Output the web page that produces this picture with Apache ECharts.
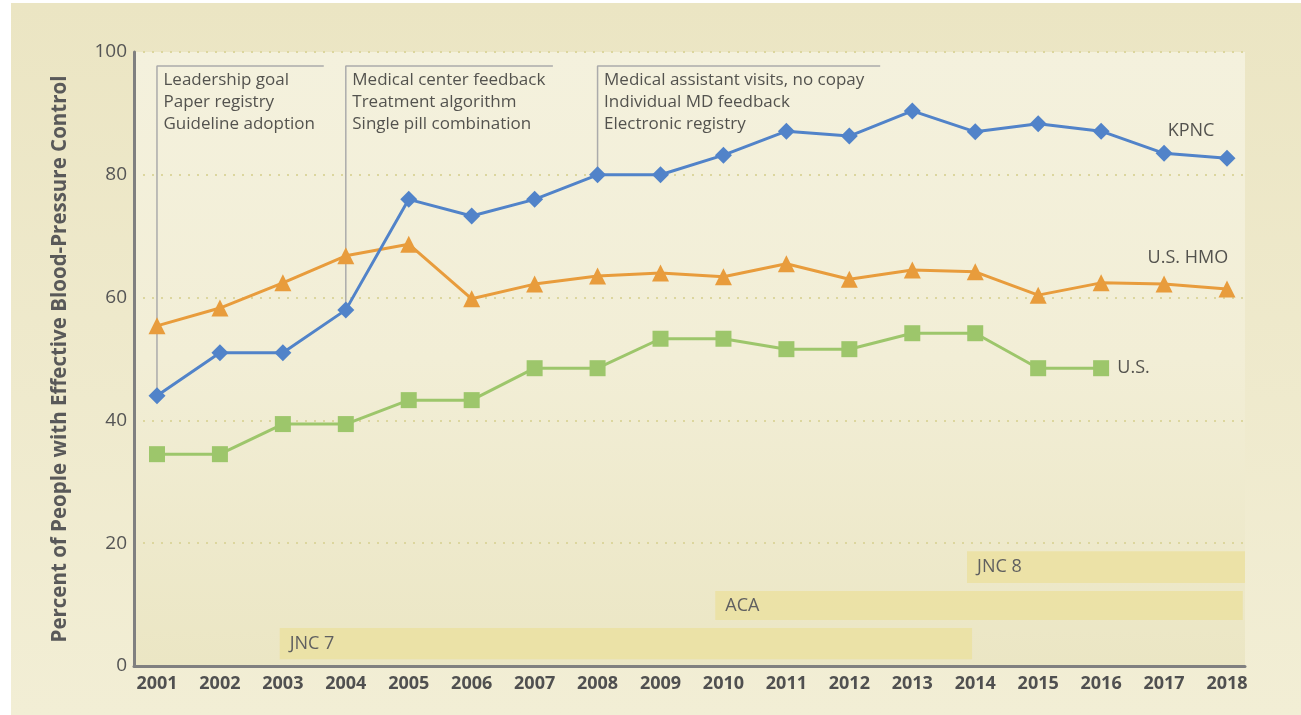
<!DOCTYPE html>
<html lang="en">
<head>
    <meta charset="UTF-8">
    <title>Effective Blood-Pressure Control</title>
    <script src="https://cdn.jsdelivr.net/npm/echarts@6.0.0/dist/echarts.min.js"></script>
    <style>
        html, body {
            margin: 0;
            padding: 0;
            background: #ffffff;
        }
        #chart {
            width: 1301px;
            height: 715px;
        }
    </style>
</head>
<body>

<div id="chart"></div>

<script>
const years = [2001, 2002, 2003, 2004, 2005, 2006, 2007, 2008, 2009, 2010, 2011, 2012, 2013, 2014, 2015, 2016, 2017, 2018];
const kpnc = [44, 51, 51, 58, 76, 73.3, 76, 80, 80, 83.2, 87.1, 86.3, 90.4, 87, 88.3, 87.1, 83.5, 82.7];
const usHmo = [55.4, 58.3, 62.4, 66.8, 68.7, 59.8, 62.2, 63.5, 64, 63.4, 65.5, 63, 64.5, 64.2, 60.4, 62.4, 62.2, 61.4];
const us = [34.5, 34.5, 39.4, 39.4, 43.3, 43.3, 48.5, 48.5, 53.3, 53.3, 51.6, 51.6, 54.2, 54.2, 48.5, 48.5, null, null];
const yTicks = [0, 20, 40, 60, 80, 100];

// guideline / policy bands
const bandNames = ['JNC 7', 'ACA', 'JNC 8'];
const bandFrom = [2002.95, 2009.87, 2013.87];
const bandTo = [2013.95, 2018.25, 2018.29];
const bandLow = [1.1, 7.5, 13.5];
const bandHigh = [6.2, 12.2, 18.7];

// intervention phases
const phaseStart = [2001, 2004, 2008];
const phaseEnd = [2003.65, 2007.29, 2012.49];
const phaseTop = 97.7;
const phaseText = [
    ['Leadership goal', 'Paper registry', 'Guideline adoption'],
    ['Medical center feedback', 'Treatment algorithm', 'Single pill combination'],
    ['Medical assistant visits, no copay', 'Individual MD feedback', 'Electronic registry']
];

// series name labels
const nameLabels = ['KPNC', 'U.S. HMO', 'U.S.'];
const nameLabelPos = [[2017.05, 87.1], [2016.73, 66.4], [2016.25, 48.5]];

const FONT = '"Open Sans", "Noto Sans", sans-serif';

function kpncAt(year) {
    return kpnc[years.indexOf(year)];
}

const phaseSeries = phaseStart.map((start, i) => ({
    type: 'line',
    silent: true,
    symbol: 'none',
    z: 1,
    lineStyle: { color: '#ababab', width: 1.5 },
    data: [[start, kpncAt(start)], [start, phaseTop], [phaseEnd[i], phaseTop]]
}));

const chart = echarts.init(document.getElementById('chart'));
chart.setOption({
    animation: false,
    backgroundColor: '#ffffff',
    graphic: [{
        type: 'rect',
        z: -10,
        shape: { x: 11, y: 3, width: 1290, height: 712 },
        style: {
            fill: new echarts.graphic.LinearGradient(0, 0, 0, 1, [
                { offset: 0, color: '#ebe5c3' },
                { offset: 1, color: '#f2eed5' }
            ])
        }
    }],
    grid: {
        left: 134,
        right: 56,
        top: 52,
        bottom: 49,
        show: true,
        borderWidth: 0,
        backgroundColor: new echarts.graphic.LinearGradient(0, 0, 0, 1, [
            { offset: 0, color: '#f4f1dd' },
            { offset: 0.5, color: '#f2eed6' },
            { offset: 1, color: '#ebe6c4' }
        ])
    },
    xAxis: {
        type: 'value',
        min: 2000.635,
        max: 2018.286,
        axisLine: { lineStyle: { color: '#808080', width: 3 } },
        axisTick: { show: false },
        splitLine: { show: false },
        axisLabel: {
            customValues: years,
            formatter: v => String(v),
            color: '#505050',
            fontFamily: FONT,
            fontWeight: 'bold',
            fontSize: 18,
            margin: 9
        }
    },
    yAxis: {
        type: 'value',
        min: 0,
        max: 100,
        interval: 20,
        name: 'Percent of People with Effective Blood-Pressure Control',
        nameLocation: 'middle',
        nameGap: 63,
        nameTextStyle: {
            color: '#595959',
            fontFamily: FONT,
            fontWeight: 'bold',
            fontSize: 20.5
        },
        axisLine: { show: true, lineStyle: { color: '#808080', width: 3 } },
        axisTick: { show: false },
        axisLabel: {
            customValues: yTicks,
            color: '#555555',
            fontFamily: FONT,
            fontSize: 19,
            margin: 7
        },
        splitLine: {
            show: true,
            lineStyle: { color: '#dcd69e', width: 2, type: [2, 7] }
        }
    },
    series: [
        {
            type: 'line',
            silent: true,
            symbol: 'none',
            data: [],
            z: 0,
            markArea: {
                silent: true,
                itemStyle: { color: '#ebe1a3', opacity: 0.9 },
                label: {
                    show: true,
                    position: 'insideLeft',
                    distance: 10,
                    color: '#606060',
                    fontFamily: FONT,
                    fontSize: 18
                },
                data: bandNames.map((name, i) => [
                    { name: name, xAxis: bandFrom[i], yAxis: bandLow[i] },
                    { xAxis: bandTo[i], yAxis: bandHigh[i] }
                ])
            }
        },
        ...phaseSeries,
        {
            type: 'scatter',
            silent: true,
            symbolSize: 1,
            itemStyle: { color: 'transparent' },
            z: 2,
            label: {
                show: true,
                position: [7, 4],
                color: '#2b2b2b',
                fontFamily: FONT,
                fontSize: 17,
                lineHeight: 22,
                formatter: p => phaseText[p.dataIndex].join('\n')
            },
            data: phaseStart.map(s => [s, phaseTop])
        },
        {
            type: 'scatter',
            silent: true,
            symbolSize: 1,
            itemStyle: { color: 'transparent' },
            z: 2,
            label: {
                show: true,
                position: 'right',
                distance: 0,
                color: '#2b2b2b',
                fontFamily: FONT,
                fontSize: 18,
                formatter: p => nameLabels[p.dataIndex]
            },
            data: nameLabelPos
        },
        {
            name: 'U.S.',
            type: 'line',
            data: years.map((y, i) => [y, us[i]]),
            color: '#9dc66b',
            symbol: 'rect',
            symbolSize: 16,
            lineStyle: { width: 3 },
            z: 3
        },
        {
            name: 'U.S. HMO',
            type: 'line',
            data: years.map((y, i) => [y, usHmo[i]]),
            color: '#e89c3c',
            symbol: 'triangle',
            symbolSize: 17,
            lineStyle: { width: 3 },
            z: 4
        },
        {
            name: 'KPNC',
            type: 'line',
            data: years.map((y, i) => [y, kpnc[i]]),
            color: '#5183c9',
            symbol: 'diamond',
            symbolSize: 17,
            lineStyle: { width: 3 },
            z: 5
        }
    ]
});
</script>

</body>
</html>
